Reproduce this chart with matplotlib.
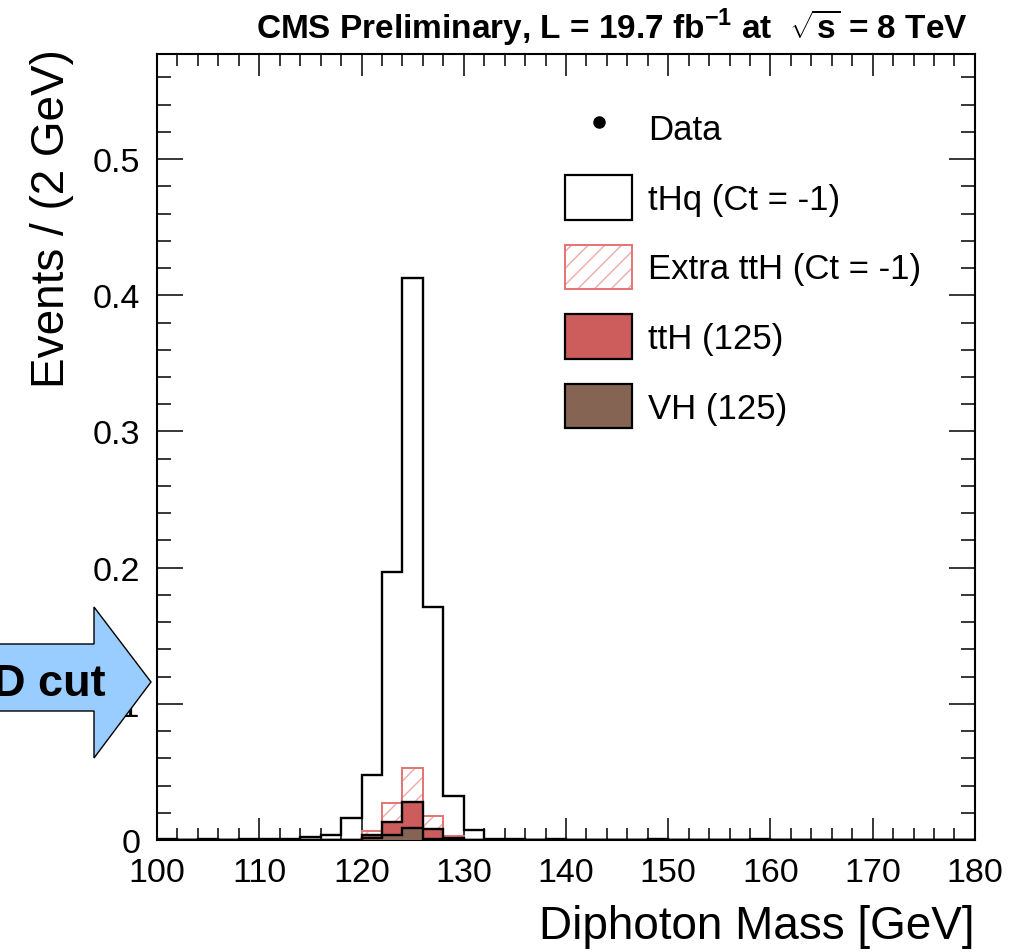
import numpy as np
import matplotlib
matplotlib.use("Agg")
import matplotlib.pyplot as plt
from matplotlib.patches import Patch, Polygon
from matplotlib.lines import Line2D
from matplotlib.ticker import MultipleLocator, FixedLocator, FixedFormatter

# 2 GeV bins from 100 to 180 GeV
bin_edges = np.arange(100, 182, 2)

thq = [
    0.0008, 0, 0.0008, 0, 0.0008, 0.0008, 0.0008, 0.0025, 0.004, 0.016,
    0.048, 0.197, 0.413, 0.171, 0.032, 0.0075, 0.0008, 0.0008, 0, 0.0008,
    0, 0, 0, 0, 0.0008, 0, 0, 0, 0, 0.0008,
    0, 0, 0, 0, 0, 0, 0, 0, 0, 0,
]
vh = [
    0, 0, 0, 0, 0, 0, 0, 0, 0, 0,
    0.0015, 0.004, 0.009, 0.001, 0, 0, 0, 0, 0, 0,
    0, 0, 0, 0, 0, 0, 0, 0, 0, 0,
    0, 0, 0, 0, 0, 0, 0, 0, 0, 0,
]
tth = [
    0, 0, 0, 0, 0, 0, 0, 0, 0, 0,
    0.0025, 0.009, 0.019, 0.007, 0.0015, 0, 0, 0, 0, 0,
    0, 0, 0, 0, 0, 0, 0, 0, 0, 0,
    0, 0, 0, 0, 0, 0, 0, 0, 0, 0,
]
extra_tth = [
    0, 0, 0, 0, 0, 0, 0, 0, 0, 0,
    0.0026, 0.014, 0.025, 0.010, 0.0015, 0, 0, 0, 0, 0,
    0, 0, 0, 0, 0, 0, 0, 0, 0, 0,
    0, 0, 0, 0, 0, 0, 0, 0, 0, 0,
]

y_ticks = [0, 0.1, 0.2, 0.3, 0.4, 0.5]
y_ticklabels = ["0", "0.1", "0.2", "0.3", "0.4", "0.5"]

TTH_COLOR = "#cd5c5c"
VH_COLOR = "#856453"
EXTRA_EDGE = "#e57373"
EXTRA_HATCH = "#f0a8a8"
HATCH = "//"

plt.rcParams["font.family"] = ["Liberation Sans", "DejaVu Sans"]
plt.rcParams["mathtext.fontset"] = "custom"
plt.rcParams["mathtext.rm"] = "Liberation Sans"
plt.rcParams["mathtext.bf"] = "Liberation Sans:bold"
plt.rcParams["hatch.linewidth"] = 1.0

fig = plt.figure(figsize=(10.23, 9.53), dpi=100)
ax = fig.add_axes([0.1535, 0.1175, 0.7995, 0.8245])

# stack: VH at the bottom, then ttH, then the extra ttH contribution
vh_top = np.array(vh)
tth_top = vh_top + np.array(tth)
extra_top = tth_top + np.array(extra_tth)

ax.stairs(extra_top, bin_edges, baseline=0, fill=True, facecolor="white",
          edgecolor=EXTRA_HATCH, hatch=HATCH, lw=0, zorder=2)
ax.stairs(extra_top, bin_edges, baseline=0, color=EXTRA_EDGE, lw=1.4,
          zorder=2.1)
ax.stairs(tth_top, bin_edges, baseline=0, fill=True, facecolor=TTH_COLOR,
          edgecolor="none", zorder=3)
ax.stairs(tth_top, bin_edges, baseline=0, color="black", lw=1.7, zorder=3.1)
ax.stairs(vh_top, bin_edges, baseline=0, fill=True, facecolor=VH_COLOR,
          edgecolor="none", zorder=4)
ax.stairs(vh_top, bin_edges, baseline=0, color="black", lw=1.7, zorder=4.1)
ax.stairs(thq, bin_edges, baseline=0, color="black", lw=1.7, zorder=5)

ax.set_xlim(100, 180)
ax.set_ylim(0, 0.577)

ax.xaxis.set_major_locator(MultipleLocator(10))
ax.xaxis.set_minor_locator(MultipleLocator(2))
ax.yaxis.set_major_locator(FixedLocator(y_ticks))
ax.yaxis.set_major_formatter(FixedFormatter(y_ticklabels))
ax.yaxis.set_minor_locator(MultipleLocator(0.02))

ax.tick_params(which="both", direction="in", top=True, right=True,
               width=1.1, labelsize=24.5)
ax.tick_params(axis="x", which="major", length=16, pad=12)
ax.tick_params(axis="x", which="minor", length=8.5)
ax.tick_params(axis="y", which="major", length=19, pad=12)
ax.tick_params(axis="y", which="minor", length=10)
for spine in ax.spines.values():
    spine.set_linewidth(1.5)

ax.set_xlabel("Diphoton Mass [GeV]", fontsize=33, loc="right")
ax.xaxis.set_label_coords(1.0, -0.082)
ax.set_ylabel("Events / (2 GeV)", fontsize=33, loc="top")
ax.yaxis.set_label_coords(-0.102, 1.008)

fig.text(0.946, 0.9706,
         r"CMS Preliminary, L = 19.7 fb$^{\mathbf{-1}}$ at  $\sqrt{\mathbf{s}}$ = 8 TeV",
         ha="right", va="center", fontsize=24, fontweight="bold")

handles = [
    Line2D([], [], marker="o", color="black", ls="none", markersize=8),
    Patch(facecolor="white", edgecolor="black", lw=1.6),
    (Patch(facecolor="white", edgecolor=EXTRA_HATCH, hatch=HATCH, lw=0),
     Patch(fill=False, edgecolor=EXTRA_EDGE, lw=1.4)),
    Patch(facecolor=TTH_COLOR, edgecolor="black", lw=1.6),
    Patch(facecolor=VH_COLOR, edgecolor="black", lw=1.6),
]
labels = ["Data", "tHq (Ct = -1)", "Extra ttH (Ct = -1)", "ttH (125)", "VH (125)"]
ax.legend(handles, labels, loc="upper left", bbox_to_anchor=(0.499, 0.935),
          frameon=False, fontsize=25, handlelength=1.93, handleheight=1.6,
          handletextpad=0.46, labelspacing=0.72, borderpad=0, borderaxespad=0)

# cut arrow on the left edge, in figure pixels
W, H = 1023, 953
arrow_px = [(-10, 645), (94, 645), (94, 608), (151, 683), (94, 759),
            (94, 712), (-10, 712)]
arrow = Polygon([(x / W, 1 - y / H) for x, y in arrow_px], closed=True,
                transform=fig.transFigure, facecolor="#99ccff",
                edgecolor="black", lw=1.0, zorder=10)
fig.patches.append(arrow)
fig.text(106 / W, 1 - 684 / H, "D cut", ha="right", va="center",
         fontsize=32.5, fontweight="bold", zorder=11)

fig.savefig("out.png", dpi=100)
